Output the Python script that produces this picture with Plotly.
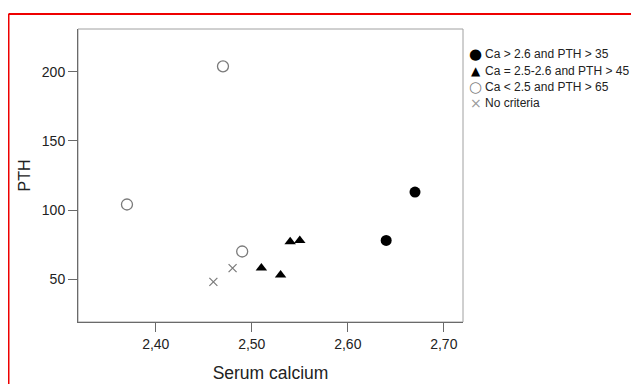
import plotly.graph_objects as go

# Data
series_names = ["Ca &gt; 2.6 and PTH &gt; 35", "Ca = 2.5-2.6 and PTH &gt; 45",
                "Ca &lt; 2.5 and PTH &gt; 65", "No criteria"]
series_symbols = ["●", "▲", "○", "×"]
ca_high_x = [2.64, 2.67]
ca_high_y = [78, 113]
ca_mid_x = [2.51, 2.53, 2.54, 2.55]
ca_mid_y = [58, 53, 77, 78]
ca_low_x = [2.37, 2.47, 2.49]
ca_low_y = [104, 204, 70]
none_x = [2.46, 2.48]
none_y = [48, 58]
x_ticks = [2.40, 2.50, 2.60, 2.70]
x_tick_labels = ["2,40", "2,50", "2,60", "2,70"]
y_ticks = [50, 100, 150, 200]

FONT = "Arial, Liberation Sans, sans-serif"
GRAY = "#7a7a7a"
series_colors = ["black", "black", "#808080", "#9a9a9a"]

# page offset of the figure (browser body margin)
OFF = 8
W, H = 639 - OFF, 384 - OFF
# plot area in page pixels: left 78, right 463, top 29, bottom 322
PL, PR, PT, PB = 78, 463, 29, 322

def px_x(px):
    return (px - PL) / (PR - PL)

def px_y(py):
    return (PB - py) / (PB - PT)

fig = go.Figure()
fig.add_trace(go.Scatter(x=ca_high_x, y=ca_high_y, mode="markers", name=series_names[0],
                         marker=dict(symbol="circle", size=11, color="black")))
fig.add_trace(go.Scatter(x=ca_mid_x, y=ca_mid_y, mode="markers", name=series_names[1],
                         marker=dict(symbol="triangle-up", size=10, color="black")))
fig.add_trace(go.Scatter(x=ca_low_x, y=ca_low_y, mode="markers", name=series_names[2],
                         marker=dict(symbol="circle-open", size=11, color=GRAY,
                                     line=dict(width=1.3, color=GRAY))))
fig.add_trace(go.Scatter(x=none_x, y=none_y, mode="markers", name=series_names[3],
                         marker=dict(symbol="x-thin-open", size=8, color=GRAY,
                                     line=dict(width=1.2, color=GRAY))))

annotations = []
row_y = [54, 70.5, 87, 103]
sym_sizes = [15, 12, 15, 14]
for i, name in enumerate(series_names):
    annotations.append(dict(xref="paper", yref="paper", x=px_x(476), y=px_y(row_y[i]),
                            xanchor="center", yanchor="middle", showarrow=False,
                            text=series_symbols[i],
                            font=dict(family="DejaVu Sans", size=sym_sizes[i],
                                      color=series_colors[i])))
    annotations.append(dict(xref="paper", yref="paper", x=px_x(483), y=px_y(row_y[i]),
                            xanchor="left", yanchor="middle", showarrow=False,
                            text=name, font=dict(family=FONT, size=12, color="#222222")))

fig.update_layout(
    width=W, height=H,
    margin=dict(l=PL - OFF, r=W - (PR - OFF), t=PT - OFF, b=H - (PB - OFF)),
    paper_bgcolor="white", plot_bgcolor="white",
    font=dict(family=FONT, color="#222222", size=13),
    showlegend=False,
    xaxis=dict(range=[2.319, 2.72], tickvals=x_ticks, ticktext=x_tick_labels,
               automargin=False,
               showgrid=False, zeroline=False, showline=True, linecolor="#6a6a6a",
               linewidth=1, ticks="outside", ticklen=9, tickcolor="#6a6a6a",
               tickfont=dict(size=14, color="#222222"),
               title=dict(text="Serum calcium", font=dict(size=17.5, color="#222222"),
                          standoff=15)),
    yaxis=dict(range=[19, 231], tickvals=y_ticks, automargin=False,
               showgrid=False, zeroline=False, showline=True, linecolor="#6a6a6a",
               linewidth=1, ticks="outside", ticklen=9, tickcolor="#6a6a6a",
               tickfont=dict(size=14, color="#222222"),
               title=dict(text="PTH", font=dict(size=16, color="#222222"),
                          standoff=7)),
    annotations=annotations,
    shapes=[
        dict(type="rect", xref="paper", yref="paper", x0=0, y0=0, x1=1, y1=1,
             line=dict(color="#a0a0a0", width=1), layer="below"),
        dict(type="line", xref="paper", yref="paper", x0=px_x(8.5), x1=px_x(700),
             y0=px_y(14), y1=px_y(14), line=dict(color="#ee0000", width=2)),
        dict(type="line", xref="paper", yref="paper", x0=px_x(8.5), x1=px_x(8.5),
             y0=px_y(400), y1=px_y(14), line=dict(color="#ee0000", width=2)),
    ],
)

fig.write_html("out.html")
